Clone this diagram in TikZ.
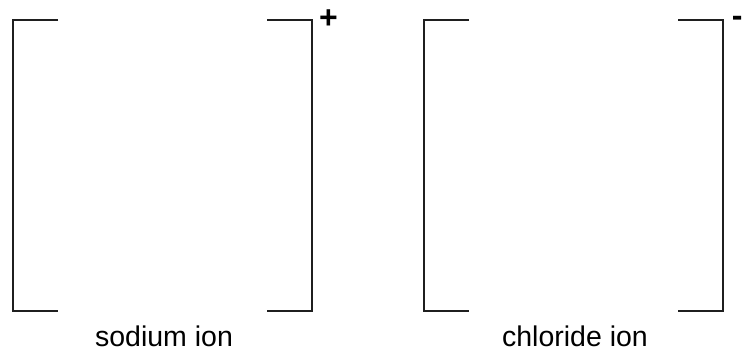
\documentclass[tikz,border=0pt]{standalone}
\usepackage{fontspec}
\setmainfont{Liberation Sans}
\begin{document}
\begin{tikzpicture}
        [x=1pt, y=-1pt,
        bracket/.style={line width=2.9pt, draw=black!88},
        label/.style={anchor=base, inner sep=0pt, font=\fontsize{28.5}{34}\selectfont},
        charge/.style={inner sep=0pt, font=\fontsize{32}{38}\selectfont\bfseries}]
        \useasboundingbox (0,0) rectangle (742,352);
        % sodium ion
        \draw[bracket] (58,20) -- (13,20) -- (13,311) -- (58,311);
        \draw[bracket] (267,20) -- (312,20) -- (312,311) -- (267,311);
        \node[charge] (plus) at (328.5,19.5) {+};
        \node[label] (sodium) at (164,347) {sodium ion};
        % chloride ion
        \draw[bracket] (469,20) -- (424,20) -- (424,311) -- (469,311);
        \draw[bracket] (678,20) -- (723,20) -- (723,311) -- (678,311);
        \node[charge] (minus) at (737.3,21.5) {-};
        \node[label] (chloride) at (575,347) {chloride ion};
    \end{tikzpicture}
\end{document}
